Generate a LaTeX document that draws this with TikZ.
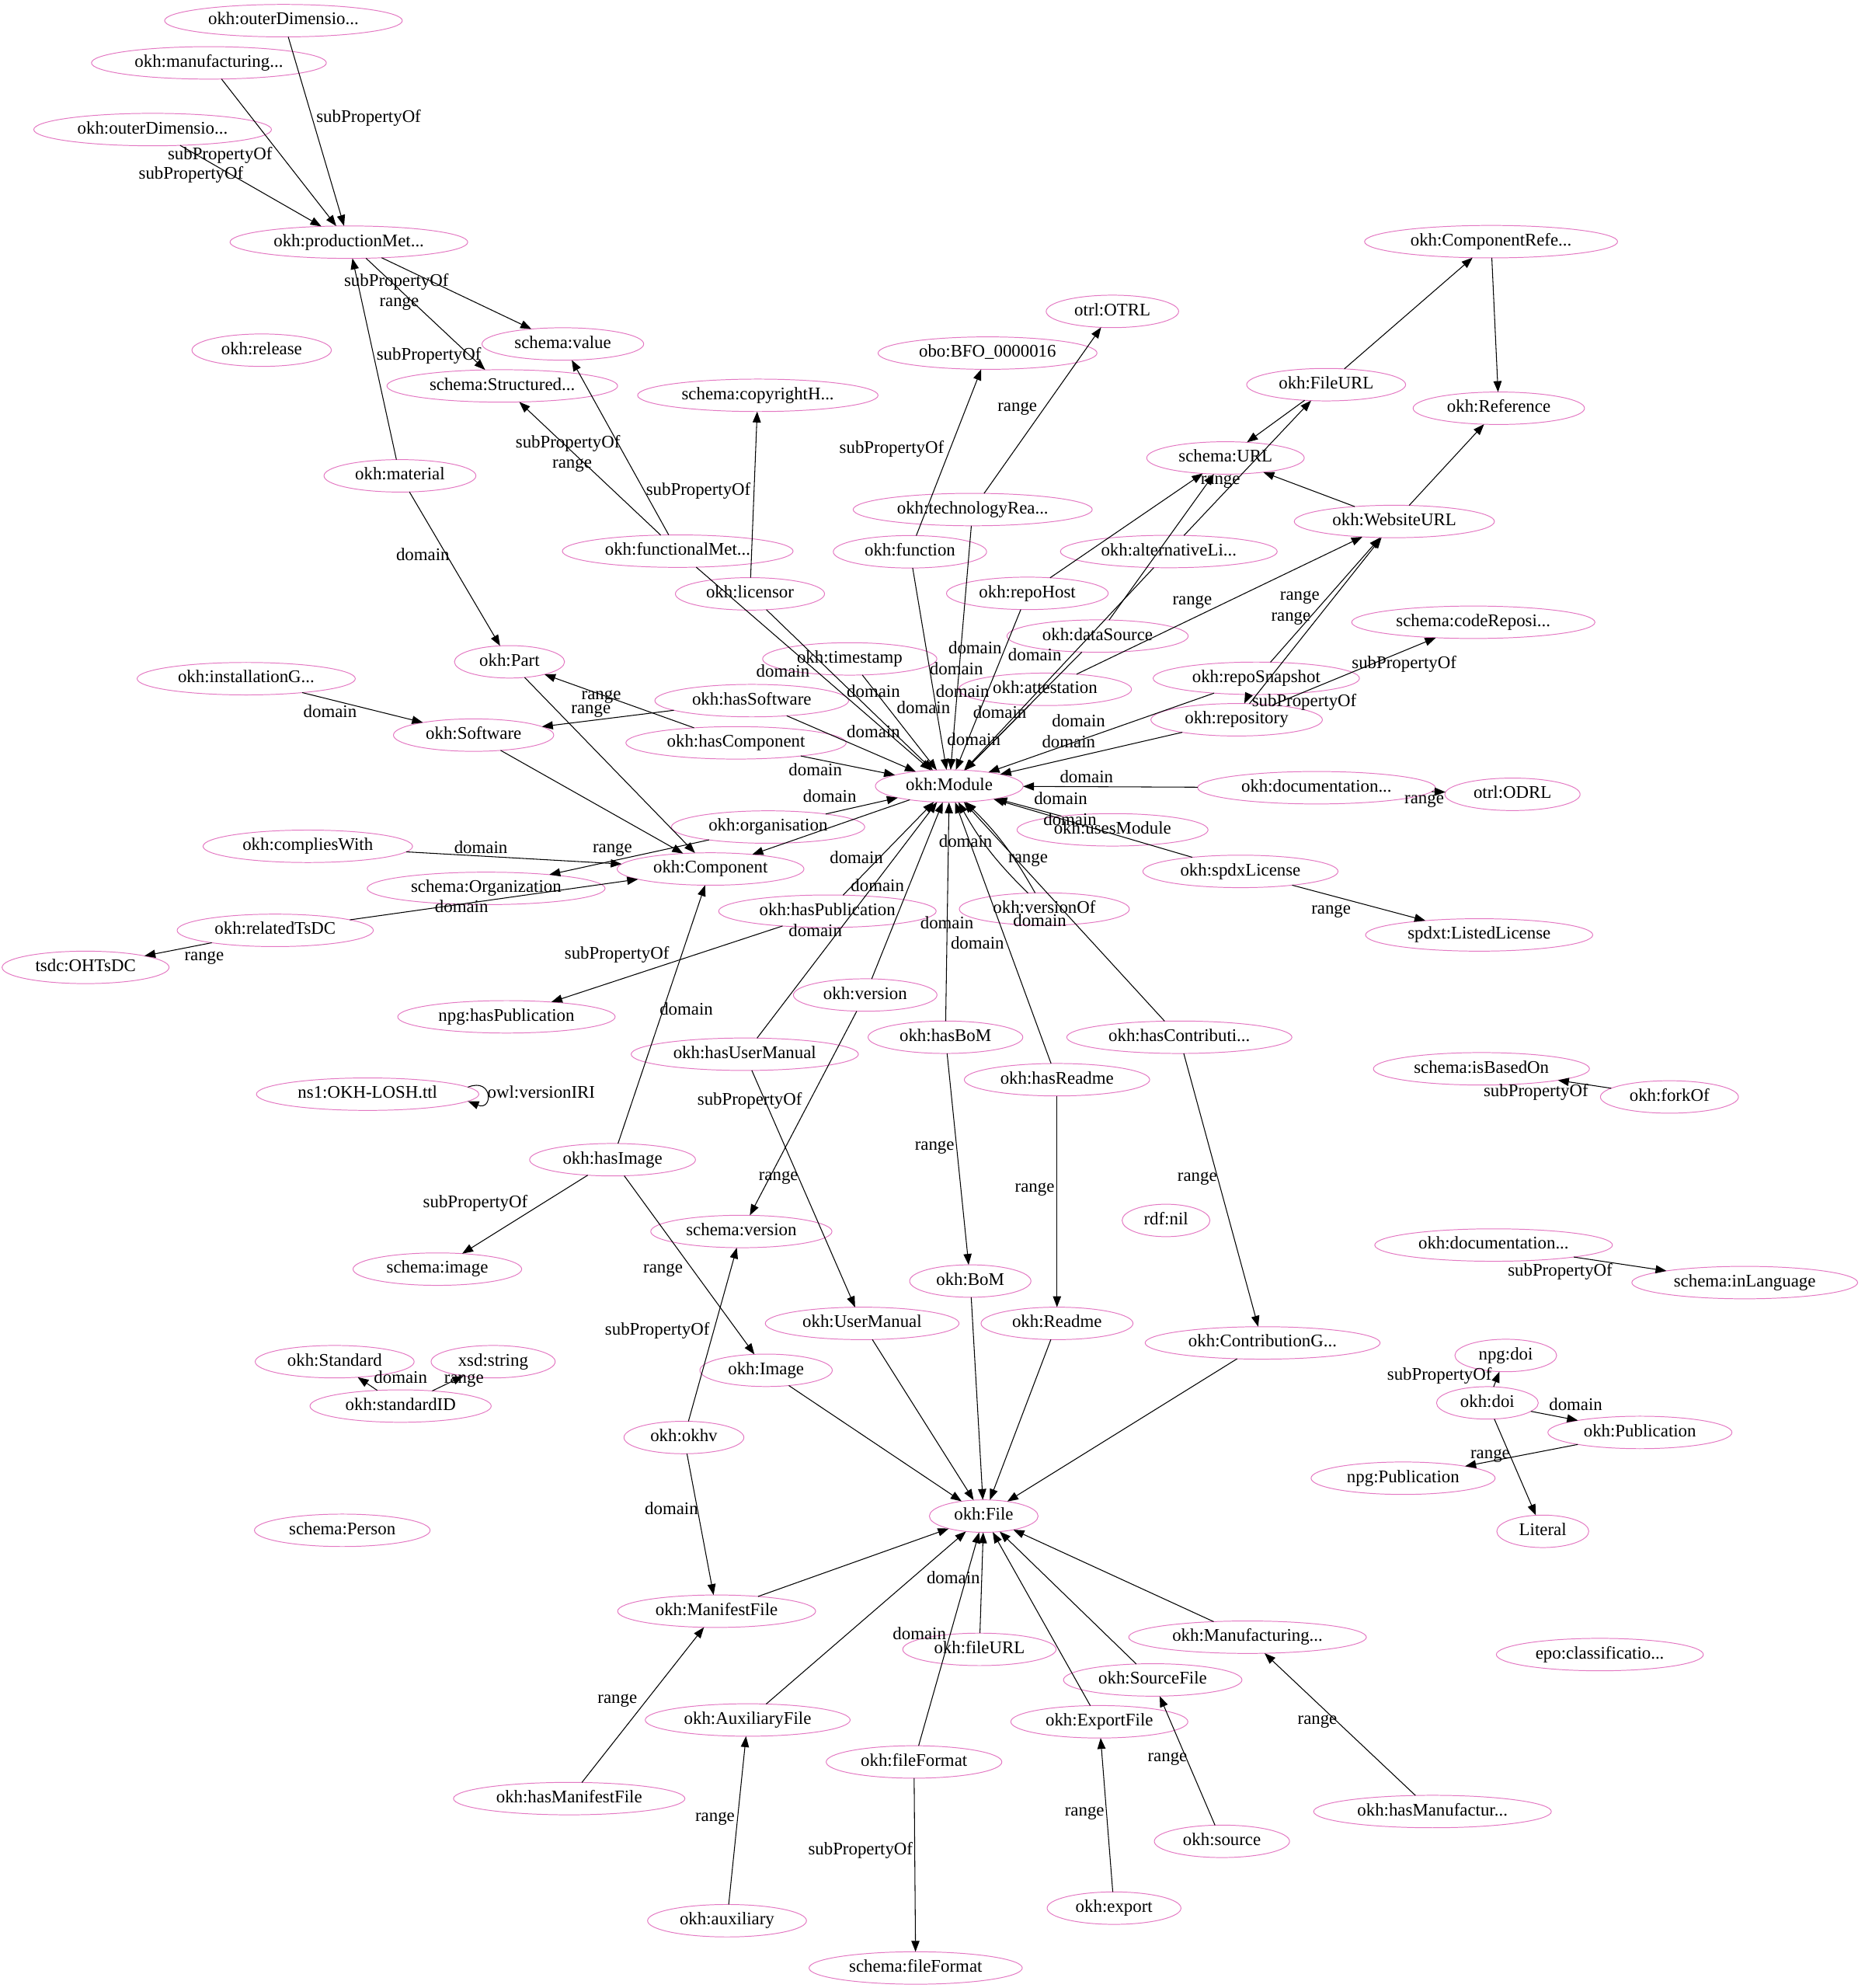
\documentclass[tikz,border=0pt]{standalone}
\usepackage{fontspec}
\setmainfont{Liberation Serif}
\usetikzlibrary{arrows.meta,shapes.geometric}
\definecolor{nodepink}{RGB}{227,119,194}
\begin{document}
\begin{tikzpicture}[x=1pt,y=-1pt,
  ent/.style={ellipse, draw=nodepink, line width=0.6pt, inner xsep=7pt, inner ysep=2.8pt,
    text height=9.5pt, text depth=3pt, outer sep=0pt, font=\fontsize{14}{16}\selectfont},
  lbl/.style={inner sep=0pt, text height=9.5pt, text depth=3pt, font=\fontsize{14}{16}\selectfont},
  edg/.style={-{Triangle[length=8.6pt,width=6.4pt]}, line width=0.65pt, black}]
\useasboundingbox (0,0) rectangle (1471,1568);

% ---------- nodes ----------
\node[ent] (outerA) at (223.6,16.3) {okh:outerDimensio...};
\node[ent] (manuf) at (164.8,49.6) {okh:manufacturing...};
\node[ent] (outerB) at (120.4,102.2) {okh:outerDimensio...};
\node[ent] (prodMet) at (275.2,191) {okh:productionMet...};
\node[ent] (release) at (206.4,276.2) {okh:release};
\node[ent] (sValue) at (444,271.3) {schema:value};
\node[ent] (sStruct) at (396.2,304.4) {schema:Structured...};
\node[ent] (copyH) at (597.8,311.8) {schema:copyrightH...};
\node[ent] (bfo) at (779,278.5) {obo:BFO\_0000016};
\node[ent] (otrl) at (877.5,245.6) {otrl:OTRL};
\node[ent] (compRef) at (1176.2,190.6) {okh:ComponentRefe...};
\node[ent] (fileURLc) at (1046.1,303.4) {okh:FileURL};
\node[ent] (reference) at (1182.3,322) {okh:Reference};
\node[ent] (sURL) at (966.7,361.2) {schema:URL};
\node[ent] (techRea) at (767.3,401.9) {okh:technologyRea...};
\node[ent] (websiteURL) at (1099.9,411.3) {okh:WebsiteURL};
\node[ent] (material) at (315.5,375.3) {okh:material};
\node[ent] (funcMet) at (534.6,434.7) {okh:functionalMet...};
\node[ent] (function) at (717.8,435.2) {okh:function};
\node[ent] (altLi) at (922,435) {okh:alternativeLi...};
\node[ent] (licensor) at (591.6,468.4) {okh:licensor};
\node[ent] (repoHost) at (810.4,468) {okh:repoHost};
\node[ent] (dataSource) at (865.8,501.7) {okh:dataSource};
\node[ent] (codeRepo) at (1162.2,490.8) {schema:codeReposi...};
\node[ent] (part) at (401.9,522) {okh:Part};
\node[ent] (timestamp) at (670.3,519.7) {okh:timestamp};
\node[ent] (installG) at (194.2,535.3) {okh:installationG...};
\node[ent] (attestation) at (824.4,543.7) {okh:attestation};
\node[ent] (repoSnap) at (991,535) {okh:repoSnapshot};
\node[ent] (hasSoftware) at (593,552.6) {okh:hasSoftware};
\node[ent] (software) at (373.6,579.8) {okh:Software};
\node[ent] (hasComponent) at (580.6,585.9) {okh:hasComponent};
\node[ent] (repository) at (975.5,567.7) {okh:repository};
\node[ent] (module) at (748.8,620) {okh:Module};
\node[ent] (docA) at (1038.5,621.3) {okh:documentation...};
\node[ent] (odrl) at (1193.1,626.5) {otrl:ODRL};
\node[ent] (organisation) at (605.9,652.3) {okh:organisation};
\node[ent] (usesModule) at (877.6,654.5) {okh:usesModule};
\node[ent] (compliesWith) at (242.8,667.5) {okh:compliesWith};
\node[ent] (component) at (560.5,685.4) {okh:Component};
\node[ent] (sOrg) at (383.5,700.7) {schema:Organization};
\node[ent] (spdxLicense) at (978.5,687.3) {okh:spdxLicense};
\node[ent] (versionOf) at (823.8,717) {okh:versionOf};
\node[ent] (hasPub) at (652.7,718.7) {okh:hasPublication};
\node[ent] (relatedTsDC) at (217.1,733.8) {okh:relatedTsDC};
\node[ent] (listedLicense) at (1166.8,737.4) {spdxt:ListedLicense};
\node[ent] (ohtsdc) at (67.5,763) {tsdc:OHTsDC};
\node[ent] (npgHasPub) at (399.5,802) {npg:hasPublication};
\node[ent] (version) at (682.5,784.8) {okh:version};
\node[ent] (hasBoM) at (745.8,818.1) {okh:hasBoM};
\node[ent] (hasContrib) at (930.3,818.1) {okh:hasContributi...};
\node[ent] (hasUserManual) at (587.5,831.5) {okh:hasUserManual};
\node[ent] (hasReadme) at (833.8,851.6) {okh:hasReadme};
\node[ent] (isBasedOn) at (1168.6,843) {schema:isBasedOn};
\node[ent] (forkOf) at (1316.9,865.2) {okh:forkOf};
\node[ent] (ns1) at (290,863) {ns1:OKH-LOSH.ttl};
\node[ent] (hasImage) at (483.2,914.7) {okh:hasImage};
\node[ent] (rdfNil) at (919.8,962.6) {rdf:nil};
\node[ent] (sVersion) at (584.8,971.3) {schema:version};
\node[ent] (sImage) at (345,1001) {schema:image};
\node[ent] (docB) at (1178.2,982) {okh:documentation...};
\node[ent] (inLanguage) at (1376.3,1011.6) {schema:inLanguage};
\node[ent] (bom) at (765.4,1010.4) {okh:BoM};
\node[ent] (userManual) at (680.1,1043.8) {okh:UserManual};
\node[ent] (readme) at (833.8,1043.8) {okh:Readme};
\node[ent] (contribG) at (996,1059.2) {okh:ContributionG...};
\node[ent] (standard) at (264,1074) {okh:Standard};
\node[ent] (xsdString) at (389,1074) {xsd:string};
\node[ent] (npgDoi) at (1187.8,1069.1) {npg:doi};
\node[ent] (image) at (604.3,1080.8) {okh:Image};
\node[ent] (standardID) at (316,1109) {okh:standardID};
\node[ent] (okhDoi) at (1173.3,1106.5) {okh:doi};
\node[ent] (publication) at (1293.6,1129.8) {okh:Publication};
\node[ent] (npgPublication) at (1106.8,1165.9) {npg:Publication};
\node[ent] (okhv) at (539.5,1133.8) {okh:okhv};
\node[ent] (file) at (776,1195.8) {okh:File};
\node[ent] (sPerson) at (270,1207) {schema:Person};
\node[ent] (literal) at (1217,1207.8) {Literal};
\node[ent] (manifestFile) at (565.3,1270.8) {okh:ManifestFile};
\node[ent] (manufacturing) at (984.1,1291.3) {okh:Manufacturing...};
\node[ent] (fileURLp) at (772.6,1300.9) {okh:fileURL};
\node[ent] (epo) at (1262,1305) {epo:classificatio...};
\node[ent] (sourceFile) at (909.3,1325) {okh:SourceFile};
\node[ent] (auxFile) at (589.8,1356.6) {okh:AuxiliaryFile};
\node[ent] (exportFile) at (867.2,1358) {okh:ExportFile};
\node[ent] (fileFormat) at (721,1389.7) {okh:fileFormat};
\node[ent] (hasManifestFile) at (449,1418.6) {okh:hasManifestFile};
\node[ent] (hasManufactur) at (1130,1428.8) {okh:hasManufactur...};
\node[ent] (source) at (963.9,1452.3) {okh:source};
\node[ent] (export) at (878.8,1505) {okh:export};
\node[ent] (auxiliary) at (573.5,1514.9) {okh:auxiliary};
\node[ent] (sFileFormat) at (722.3,1552.2) {schema:fileFormat};

% ---------- connectors ----------
\draw[edg] (outerA) -- (prodMet);
\draw[edg] (manuf) -- (prodMet);
\draw[edg] (outerB) -- (prodMet);
\draw[edg] (prodMet) -- (sValue);
\draw[edg] (prodMet) -- (sStruct);
\draw[edg] (material) -- (prodMet);
\draw[edg] (funcMet) -- (sStruct);
\draw[edg] (funcMet) -- (sValue);
\draw[edg] (licensor) -- (copyH);
\draw[edg] (material) -- (part);
\draw[edg] (function) -- (bfo);
\draw[edg] (techRea) -- (otrl);
\draw[edg] (fileURLc) -- (sURL);
\draw[edg] (altLi) -- (fileURLc);
\draw[edg] (websiteURL) -- (sURL);
\draw[edg] (websiteURL) -- (reference);
\draw[edg] (fileURLc) -- (compRef);
\draw[edg] (compRef) -- (reference);
\draw[edg] (repoHost) -- (sURL);
\draw[edg] (dataSource) -- (sURL);
\draw[edg] (attestation) -- (websiteURL);
\draw[edg] (repoSnap) -- (websiteURL);
\draw[edg] (repository) -- (websiteURL);
\draw[edg] (repoSnap) -- (repository);
\draw[edg] (repository) -- (codeRepo);
\foreach \s in {funcMet,licensor,timestamp,function,techRea,repoHost,dataSource,altLi,
  attestation,repoSnap,repository,hasSoftware,hasComponent,docA,usesModule,spdxLicense,
  hasPub,hasUserManual,version,hasBoM,hasReadme,hasContrib,organisation}
  \draw[edg] (\s) -- (module);
\draw[edg] (versionOf) to[bend left=8] (module);
\draw[edg] (versionOf) to[bend right=8] (module);
\draw[edg] (docA) -- (odrl);
\draw[edg] (spdxLicense) -- (listedLicense);
\draw[edg] (hasPub) -- (npgHasPub);
\draw[edg] (organisation) -- (sOrg);
\draw[edg] (module) -- (component);
\draw[edg] (hasSoftware) -- (software);
\draw[edg] (hasComponent) -- (part);
\draw[edg] (installG) -- (software);
\foreach \s in {software,part,compliesWith,relatedTsDC,hasImage}
  \draw[edg] (\s) -- (component);
\draw[edg] (relatedTsDC) -- (ohtsdc);
\draw[edg] (ns1.4) .. controls +(20,-8) and +(20,8) .. (ns1.-4);
\draw[edg] (hasImage) -- (sImage);
\draw[edg] (hasImage) -- (image);
\draw[edg] (version) -- (sVersion);
\draw[edg] (okhv) -- (sVersion);
\draw[edg] (hasUserManual) -- (userManual);
\draw[edg] (hasBoM) -- (bom);
\draw[edg] (hasReadme) -- (readme);
\draw[edg] (hasContrib) -- (contribG);
\foreach \s in {image,userManual,bom,readme,contribG,manifestFile,auxFile,fileURLp,
  fileFormat,exportFile,sourceFile,manufacturing}
  \draw[edg] (\s) -- (file);
\draw[edg] (okhv) -- (manifestFile);
\draw[edg] (hasManifestFile) -- (manifestFile);
\draw[edg] (auxiliary) -- (auxFile);
\draw[edg] (fileFormat) -- (sFileFormat);
\draw[edg] (export) -- (exportFile);
\draw[edg] (source) -- (sourceFile);
\draw[edg] (hasManufactur) -- (manufacturing);
\draw[edg] (standardID) -- (standard);
\draw[edg] (standardID) -- (xsdString);
\draw[edg] (forkOf) -- (isBasedOn);
\draw[edg] (docB) -- (inLanguage);
\draw[edg] (okhDoi) -- (npgDoi);
\draw[edg] (okhDoi) -- (publication);
\draw[edg] (publication) -- (npgPublication);
\draw[edg] (okhDoi) -- (literal);

% ---------- connector labels ----------
\node[lbl] (l01) at (290.8,93.4) {subPropertyOf};
\node[lbl] (l02) at (173.6,122.6) {subPropertyOf};
\node[lbl] (l03) at (150.7,137.9) {subPropertyOf};
\node[lbl] (l04) at (312.7,222.7) {subPropertyOf};
\node[lbl] (l05) at (314.9,238.6) {range};
\node[lbl] (l06) at (338.3,280.9) {subPropertyOf};
\node[lbl] (l07) at (448,349.8) {subPropertyOf};
\node[lbl] (l08) at (451.3,366.1) {range};
\node[lbl] (l09) at (550.9,387.2) {subPropertyOf};
\node[lbl] (l10) at (333.5,438.8) {domain};
\node[lbl] (l11) at (703.4,354.5) {subPropertyOf};
\node[lbl] (l12) at (802.5,321.2) {range};
\node[lbl] (l13) at (962.7,378.6) {range};
\node[lbl] (l14) at (940.5,473.6) {range};
\node[lbl] (l15) at (1025.3,470.2) {range};
\node[lbl] (l16) at (1018.3,486.4) {range};
\node[lbl] (l17) at (1107.6,524.3) {subPropertyOf};
\node[lbl] (l18) at (1028.8,553.8) {subPropertyOf};
\node[lbl] (l19) at (617.6,530.8) {domain};
\node[lbl] (l20) at (769.2,512.6) {domain};
\node[lbl] (l21) at (816.3,517.7) {domain};
\node[lbl] (l22) at (754.4,529) {domain};
\node[lbl] (l23) at (689,546.5) {domain};
\node[lbl] (l24) at (759.3,546.6) {domain};
\node[lbl] (l25) at (728.5,559.5) {domain};
\node[lbl] (l26) at (788.6,563) {domain};
\node[lbl] (l27) at (850.8,569.8) {domain};
\node[lbl] (l28) at (689,578.6) {domain};
\node[lbl] (l29) at (768.2,584.9) {domain};
\node[lbl] (l30) at (843,586.6) {domain};
\node[lbl] (l31) at (643.2,608.8) {domain};
\node[lbl] (l32) at (857.1,614) {domain};
\node[lbl] (l33) at (836.7,631.5) {domain};
\node[lbl] (l34) at (844.1,647.9) {domain};
\node[lbl] (l35) at (654.5,629.6) {domain};
\node[lbl] (l36) at (1123.5,630.4) {range};
\node[lbl] (l37) at (761.7,665) {domain};
\node[lbl] (l38) at (811,677) {range};
\node[lbl] (l39) at (820.2,727.4) {domain};
\node[lbl] (l40) at (675.6,677.9) {domain};
\node[lbl] (l41) at (692.2,699.7) {domain};
\node[lbl] (l42) at (643.2,735.1) {domain};
\node[lbl] (l43) at (747,729.5) {domain};
\node[lbl] (l44) at (771,745.3) {domain};
\node[lbl] (l45) at (1050,717.5) {range};
\node[lbl] (l46) at (474.3,548.5) {range};
\node[lbl] (l47) at (466.2,559.8) {range};
\node[lbl] (l48) at (260.4,562.9) {domain};
\node[lbl] (l49) at (379.3,670.1) {domain};
\node[lbl] (l50) at (483.1,669.1) {range};
\node[lbl] (l51) at (364.1,716.1) {domain};
\node[lbl] (l52) at (161.1,754.3) {range};
\node[lbl] (l53) at (486.6,753.4) {subPropertyOf};
\node[lbl] (l54) at (541.4,797.4) {domain};
\node[lbl] (l55) at (591.4,868.1) {subPropertyOf};
\node[lbl] (l56) at (737.2,903.7) {range};
\node[lbl] (l57) at (614.1,927.9) {range};
\node[lbl] (l58) at (816.2,937.2) {range};
\node[lbl] (l59) at (944.4,928.4) {range};
\node[lbl] (l60) at (523,1000.6) {range};
\node[lbl] (l61) at (518.5,1049.8) {subPropertyOf};
\node[lbl] (l62) at (375,949) {subPropertyOf};
\node[lbl] (l63) at (427,863) {owl:versionIRI};
\node[lbl] (l64) at (316,1088) {domain};
\node[lbl] (l65) at (366,1088) {range};
\node[lbl] (l66) at (1211.6,861.7) {subPropertyOf};
\node[lbl] (l67) at (1230.7,1002.9) {subPropertyOf};
\node[lbl] (l68) at (1135.5,1085.5) {subPropertyOf};
\node[lbl] (l69) at (1243,1109.3) {domain};
\node[lbl] (l70) at (1175.5,1147) {range};
\node[lbl] (l71) at (529.7,1191.3) {domain};
\node[lbl] (l72) at (752,1246.1) {domain};
\node[lbl] (l73) at (725.3,1289.7) {domain};
\node[lbl] (l74) at (487,1340) {range};
\node[lbl] (l75) at (564,1433.6) {range};
\node[lbl] (l76) at (678.8,1459.8) {subPropertyOf};
\node[lbl] (l77) at (855.5,1429.1) {range};
\node[lbl] (l78) at (920.9,1386) {range};
\node[lbl] (l79) at (1039.2,1356.6) {range};
\end{tikzpicture}
\end{document}
